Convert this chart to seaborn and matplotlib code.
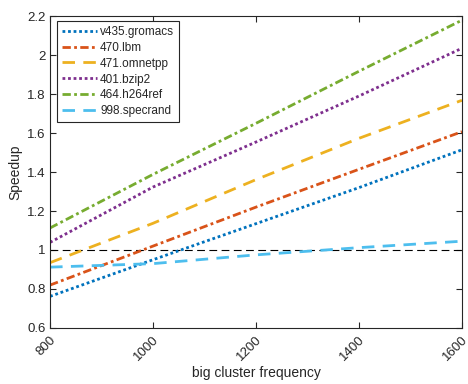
import matplotlib
matplotlib.use("Agg")
import matplotlib.pyplot as plt
import seaborn as sns
import pandas as pd

freq = [800, 1000, 1200, 1400, 1600]
gromacs = [0.762, 0.950, 1.135, 1.320, 1.514]
lbm = [0.820, 1.020, 1.220, 1.414, 1.607]
omnetpp = [0.935, 1.137, 1.361, 1.573, 1.768]
bzip2 = [1.039, 1.323, 1.554, 1.790, 2.035]
h264ref = [1.113, 1.388, 1.650, 1.917, 2.179]
specrand = [0.912, 0.930, 0.975, 1.012, 1.045]
names = ["v435.gromacs", "470.lbm", "471.omnetpp", "401.bzip2", "464.h264ref", "998.specrand"]
series = [gromacs, lbm, omnetpp, bzip2, h264ref, specrand]
yticks = [0.6, 0.8, 1.0, 1.2, 1.4, 1.6, 1.8, 2.0, 2.2]
ytick_labels = ["0.6", "0.8", "1", "1.2", "1.4", "1.6", "1.8", "2", "2.2"]
xticks = [800, 1000, 1200, 1400, 1600]

sns.set_style("white")
plt.rcParams['font.family'] = ['Liberation Sans', 'DejaVu Sans']

colors = [(0, 0.447, 0.741), (0.85, 0.325, 0.098), (0.929, 0.694, 0.125),
          (0.494, 0.184, 0.556), (0.466, 0.674, 0.188), (0.301, 0.745, 0.933)]
styles = [(0, (1, 1)), (0, (3, 1.2, 1, 1.2)), (0, (4.5, 3)), (0, (1, 1)),
          (0, (3, 1.2, 1, 1.2)), (0, (4.5, 3))]

fig = plt.figure(figsize=(4.68, 3.84), dpi=100)
ax = fig.add_axes([0.107, 0.146, 0.88, 0.812])

for name, vals, c, ls in zip(names, series, colors, styles):
    df = pd.DataFrame({"freq": freq, "speedup": vals})
    sns.lineplot(data=df, x="freq", y="speedup", ax=ax, color=c, linewidth=2,
                 linestyle=ls, label=name)

ax.axhline(1.0, color="black", linewidth=0.8, linestyle=(0, (7, 4)), zorder=1)

ax.set_xlim(800, 1600)
ax.set_ylim(0.6, 2.2)
ax.set_xticks(xticks)
ax.set_xticklabels([str(x) for x in xticks], rotation=45, ha="right",
                   rotation_mode="anchor", fontsize=9.5, color="#262626")
ax.set_yticks(yticks)
ax.set_yticklabels(ytick_labels, fontsize=9.5, color="#262626")
ax.tick_params(direction="in", length=4, width=0.8, top=True, right=True,
               bottom=True, left=True, colors="#262626", labelcolor="#262626")
ax.tick_params(axis="x", pad=4)
ax.tick_params(axis="y", pad=3)
for s in ax.spines.values():
    s.set_color("#262626")
    s.set_linewidth(0.8)
ax.set_xlabel("big cluster frequency", fontsize=10, color="#262626", labelpad=2)
ax.set_ylabel("Speedup", fontsize=10, color="#262626", labelpad=4)

leg = ax.legend(loc="upper left", fontsize=8.5, handlelength=3.0, handletextpad=0.25,
                labelspacing=0.33, borderpad=0.4, fancybox=False, framealpha=1,
                borderaxespad=0, bbox_to_anchor=(0.017, 0.984))
leg.get_frame().set_edgecolor("#262626")
leg.get_frame().set_linewidth(0.8)

fig.savefig("out.png", dpi=100)
